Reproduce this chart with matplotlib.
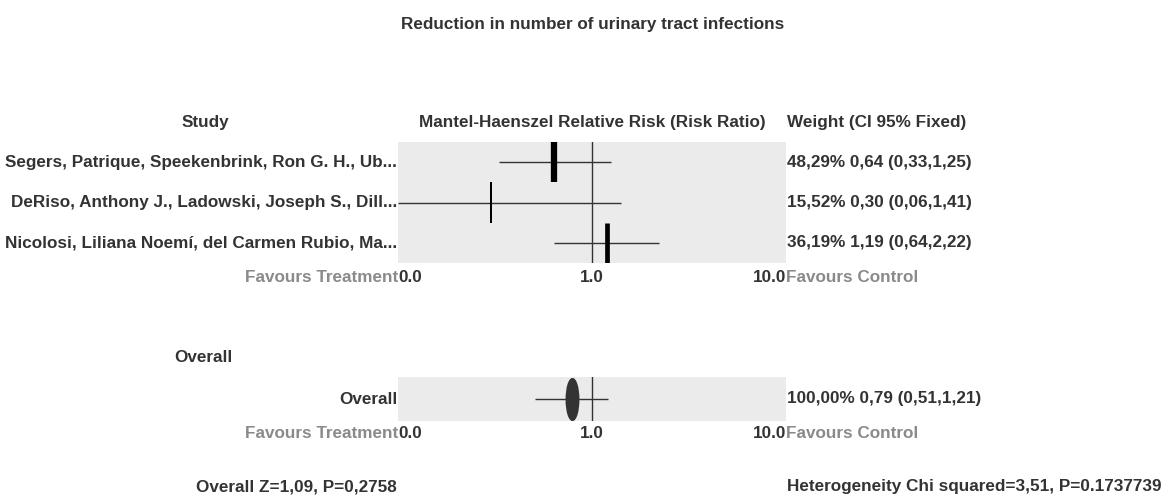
import matplotlib
matplotlib.use("Agg")
import matplotlib.pyplot as plt
from matplotlib.path import Path
from matplotlib.transforms import Affine2D

# data
studies = [
    "Segers, Patrique, Speekenbrink, Ron G. H., Ub...",
    "DeRiso, Anthony J., Ladowski, Joseph S., Dill...",
    "Nicolosi, Liliana Noemí, del Carmen Rubio, Ma...",
]
rr = [0.64, 0.30, 1.19]
ci_low = [0.33, 0.06, 0.64]
ci_high = [1.25, 1.41, 2.22]
weights = [48.29, 15.52, 36.19]
weight_labels = [
    "48,29% 0,64 (0,33,1,25)",
    "15,52% 0,30 (0,06,1,41)",
    "36,19% 1,19 (0,64,2,22)",
]
overall_rr = 0.79
overall_low = 0.51
overall_high = 1.21
overall_label = "100,00% 0,79 (0,51,1,21)"
tick_vals = [0.1, 1.0, 10.0]
tick_labels = ["0.0", "1.0", "10.0"]

W, H = 1168, 496
DARK = "#333333"
GREY = "#8a8a8a"
PANEL = "#ebebeb"
FS = 12.3

plt.rcParams["font.family"] = ["Liberation Sans", "DejaVu Sans"]
plt.rcParams["font.weight"] = "bold"

fig = plt.figure(figsize=(W / 100, H / 100), dpi=100)


def fx(px):
    return px / W


def fy(py):
    return 1 - py / H


def make_panel(top, bottom):
    ax = fig.add_axes([fx(398), fy(bottom), fx(786) - fx(398), (bottom - top) / H])
    ax.set_xscale("log")
    ax.set_xlim(tick_vals[0], tick_vals[-1])
    ax.set_facecolor(PANEL)
    for s in ax.spines.values():
        s.set_visible(False)
    ax.set_xticks([])
    ax.set_yticks([])
    ax.minorticks_off()
    return ax


def axis_labels(ax, off):
    has = ["left", "center", "right"]
    for v, lab, ha in zip(tick_vals, tick_labels, has):
        ax.annotate(lab, xy=(v, 0), xycoords=("data", "axes fraction"),
                    xytext=(0, -off), textcoords="offset pixels",
                    ha=ha, va="center", fontsize=FS, color=DARK, annotation_clip=False)
    ax.annotate("Favours Treatment", xy=(tick_vals[0], 0), xycoords=("data", "axes fraction"),
                xytext=(0, -off), textcoords="offset pixels",
                ha="right", va="center", fontsize=FS, color=GREY, annotation_clip=False)
    ax.annotate("Favours Control", xy=(tick_vals[-1], 0), xycoords=("data", "axes fraction"),
                xytext=(0, -off), textcoords="offset pixels",
                ha="left", va="center", fontsize=FS, color=GREY, annotation_clip=False)


# title and headers
fig.text(fx(593), fy(24), "Reduction in number of urinary tract infections",
         ha="center", va="center", fontsize=FS, color=DARK)
fig.text(fx(205), fy(123), "Study", ha="center", va="center", fontsize=FS, color=DARK)
fig.text(fx(592), fy(123), "Mantel-Haenszel Relative Risk (Risk Ratio)",
         ha="center", va="center", fontsize=FS, color=DARK)
fig.text(fx(787), fy(123), "Weight (CI 95% Fixed)", ha="left", va="center",
         fontsize=FS, color=DARK)

# study panel
ax1 = make_panel(142, 263)
n = len(studies)
ax1.set_ylim(n - 0.5, -0.5)
ax1.axvline(1.0, color=DARK, lw=1.0)
for i in range(n):
    lo = max(ci_low[i], tick_vals[0])
    hi = min(ci_high[i], tick_vals[-1])
    ax1.hlines(i, lo, hi, color=DARK, lw=1.0)
    ax1.vlines(rr[i], i - 0.5, i + 0.5, color="black",
               lw=max(1.0, weights[i] * 0.13 * 0.72))
    ax1.annotate(studies[i], xy=(tick_vals[0], i), xytext=(-1, 0),
                 textcoords="offset pixels", ha="right", va="center",
                 fontsize=FS, color=DARK, annotation_clip=False)
    ax1.annotate(weight_labels[i], xy=(tick_vals[-1], i), xytext=(1, 0),
                 textcoords="offset pixels", ha="left", va="center",
                 fontsize=FS, color=DARK, annotation_clip=False)
axis_labels(ax1, 14)

# overall panel
fig.text(fx(203), fy(357), "Overall", ha="center", va="center", fontsize=FS, color=DARK)
ax2 = make_panel(377, 421)
ax2.set_ylim(0.5, -0.5)
ax2.axvline(1.0, color=DARK, lw=1.0)
ax2.hlines(0, overall_low, overall_high, color=DARK, lw=1.0)
ellipse = Path.unit_circle().transformed(Affine2D().scale(0.3, 1.0))
ax2.plot([overall_rr], [0], marker=ellipse, markersize=30, color=DARK, mec=DARK)
ax2.annotate("Overall", xy=(tick_vals[0], 0), xytext=(-1, 0),
             textcoords="offset pixels", ha="right", va="center",
             fontsize=FS, color=DARK, annotation_clip=False)
ax2.annotate(overall_label, xy=(tick_vals[-1], 0), xytext=(1, 0),
             textcoords="offset pixels", ha="left", va="center",
             fontsize=FS, color=DARK, annotation_clip=False)
axis_labels(ax2, 12)

fig.text(fx(397), fy(487), "Overall Z=1,09, P=0,2758", ha="right", va="center",
         fontsize=FS, color=DARK)
fig.text(fx(787), fy(487), "Heterogeneity Chi squared=3,51, P=0.1737739",
         ha="left", va="center", fontsize=FS, color=DARK)

fig.savefig("out.png", dpi=100)
